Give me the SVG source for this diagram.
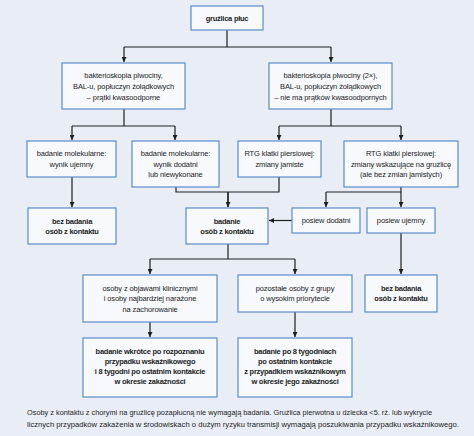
<svg xmlns="http://www.w3.org/2000/svg" width="474" height="436" viewBox="0 0 474 436">
<defs>
<marker id="ah" viewBox="0 0 10 10" refX="10" refY="5" markerWidth="5" markerHeight="5" markerUnits="userSpaceOnUse" orient="auto">
<path d="M0,0 L10,5 L0,10 z" fill="#1e1e1e"/>
</marker>
</defs>
<style>
.box{fill:#f7f9fd;stroke:#5b8cc8;stroke-width:1.2}
text{font-family:"Liberation Sans",Arial,sans-serif;font-size:7.5px;fill:#1c1c1c;text-anchor:middle}
.b{font-weight:bold;letter-spacing:-0.25px}
.n{letter-spacing:-0.1px}
.con path{fill:none;stroke:#1e1e1e;stroke-width:1.2}
.foot{text-anchor:start;font-size:7.2px}
</style>
<rect width="474" height="436" fill="#e9eef6"/>
<g class="con">
<path d="M227,30 V47 M124,47 H331"/>
<path d="M124,47 V62" marker-end="url(#ah)"/>
<path d="M331,47 V62" marker-end="url(#ah)"/>
<path d="M124,109 V126 M72,126 H175"/>
<path d="M72,126 V140" marker-end="url(#ah)"/>
<path d="M175,126 V140" marker-end="url(#ah)"/>
<path d="M331,109 V126 M279,126 H401"/>
<path d="M279,126 V140" marker-end="url(#ah)"/>
<path d="M401,126 V140" marker-end="url(#ah)"/>
<path d="M72,177 V207" marker-end="url(#ah)"/>
<path d="M176,187 V192 H279 V177 M228,192 V207"/>
<path d="M228,192 V207" marker-end="url(#ah)"/>
<path d="M401,187 V192 M326,192 H401"/>
<path d="M326,192 V207" marker-end="url(#ah)"/>
<path d="M401,192 V207" marker-end="url(#ah)"/>
<path d="M292,220.5 H269" marker-end="url(#ah)"/>
<path d="M401,233 V274" marker-end="url(#ah)"/>
<path d="M228,244 V259 M150,259 H295"/>
<path d="M150,259 V274" marker-end="url(#ah)"/>
<path d="M295,259 V274" marker-end="url(#ah)"/>
<path d="M150,322 V337" marker-end="url(#ah)"/>
<path d="M295,312 V337" marker-end="url(#ah)"/>
</g>
<g id="n-gruzlica"><rect class="box" x="191" y="6" width="72" height="24"/><text class="b" x="227" y="20.5">gruźlica płuc</text></g>
<g id="n-bakt-plus"><rect class="box" x="62" y="63" width="123" height="46"/>
<text class="n" x="123.5" y="77.5">bakterioskopia plwociny,</text>
<text class="n" x="123.5" y="88.8">BAL-u, popłuczyn żołądkowych</text>
<text class="n" x="123.5" y="100.2">– prątki kwasoodporne</text></g>
<g id="n-bakt-minus"><rect class="box" x="269" y="63" width="123" height="46"/>
<text class="n" x="330.5" y="77.5">bakterioskopia plwociny (2×),</text>
<text class="n" x="330.5" y="88.8">BAL-u, popłuczyn żołądkowych</text>
<text class="n" x="330.5" y="100.2">– nie ma prątków kwasoodpornych</text></g>
<g id="n-mol-neg"><rect class="box" x="27" y="141" width="89" height="36"/>
<text class="n" x="71.5" y="156.2">badanie molekularne:</text>
<text class="n" x="71.5" y="166.8">wynik ujemny</text></g>
<g id="n-mol-pos"><rect class="box" x="132" y="141" width="87" height="46"/>
<text class="n" x="175.5" y="156.2">badanie molekularne:</text>
<text class="n" x="175.5" y="166.8">wynik dodatni</text>
<text class="n" x="175.5" y="177.2">lub niewykonane</text></g>
<g id="n-rtg-jam"><rect class="box" x="238" y="141" width="83" height="36"/>
<text class="n" x="279.5" y="156.2">RTG klatki piersiowej:</text>
<text class="n" x="279.5" y="166.8">zmiany jamiste</text></g>
<g id="n-rtg-wsk"><rect class="box" x="344" y="141" width="114" height="46"/>
<text class="n" x="401" y="156.2">RTG klatki piersiowej:</text>
<text class="n" x="401" y="166.8">zmiany  wskazujące na gruźlicę</text>
<text class="n" x="401" y="177.2">(ale bez zmian jamistych)</text></g>
<g id="n-bez1"><rect class="box" x="28" y="208" width="88" height="36"/>
<text class="b" x="72" y="223.5">bez badania</text>
<text class="b" x="72" y="233.5">osób z kontaktu</text></g>
<g id="n-badanie"><rect class="box" x="186" y="208" width="82" height="36"/>
<text class="b" x="227" y="223.5">badanie</text>
<text class="b" x="227" y="233.5">osób z kontaktu</text></g>
<g id="n-posiew-dod"><rect class="box" x="292" y="208" width="68" height="25"/>
<text class="n" x="326" y="223">posiew dodatni</text></g>
<g id="n-posiew-uj"><rect class="box" x="367" y="208" width="68" height="25"/>
<text class="n" x="401" y="223">posiew ujemny</text></g>
<g id="n-bez2"><rect class="box" x="365" y="275" width="72" height="37"/>
<text class="b" x="401" y="290.5">bez badania</text>
<text class="b" x="401" y="300.5">osób z kontaktu</text></g>
<g id="n-objawy"><rect class="box" x="83" y="275" width="134" height="47"/>
<text class="n" x="150" y="290.5">osoby z objawami klinicznymi</text>
<text class="n" x="150" y="301.3">i osoby najbardziej narażone</text>
<text class="n" x="150" y="312.3">na zachorowanie</text></g>
<g id="n-pozostale"><rect class="box" x="238" y="275" width="114" height="37"/>
<text class="n" x="295" y="290.5">pozostałe osoby z grupy</text>
<text class="n" x="295" y="300.5">o wysokim priorytecie</text></g>
<g id="n-wkrotce"><rect class="box" x="83" y="338" width="134" height="59"/>
<text class="b" x="150" y="353.5">badanie wkrótce po rozpoznaniu</text>
<text class="b" x="150" y="363.5">przypadku wskaźnikowego</text>
<text class="b" x="150" y="373.8">i 8 tygodni po ostatnim kontakcie</text>
<text class="b" x="150" y="384">w okresie zakaźności</text></g>
<g id="n-po8"><rect class="box" x="238" y="338" width="114" height="59"/>
<text class="b" x="295" y="353.5">badanie po 8 tygodniach</text>
<text class="b" x="295" y="363.5">po ostatnim kontakcie</text>
<text class="b" x="295" y="373.8">z przypadkiem wskaźnikowym</text>
<text class="b" x="295" y="384">w okresie jego zakaźności</text></g>
<text class="foot" x="27" y="414.5" textLength="405" lengthAdjust="spacingAndGlyphs">Osoby z kontaktu z chorymi na gruźlicę pozapłucną nie wymagają badania. Gruźlica pierwotna u dziecka &lt;5. rż. lub wykrycie</text>
<text class="foot" x="27" y="426.5" textLength="432" lengthAdjust="spacingAndGlyphs">licznych przypadków zakażenia w środowiskach o dużym ryzyku transmisji wymagają poszukiwania przypadku wskaźnikowego.</text>
</svg>
